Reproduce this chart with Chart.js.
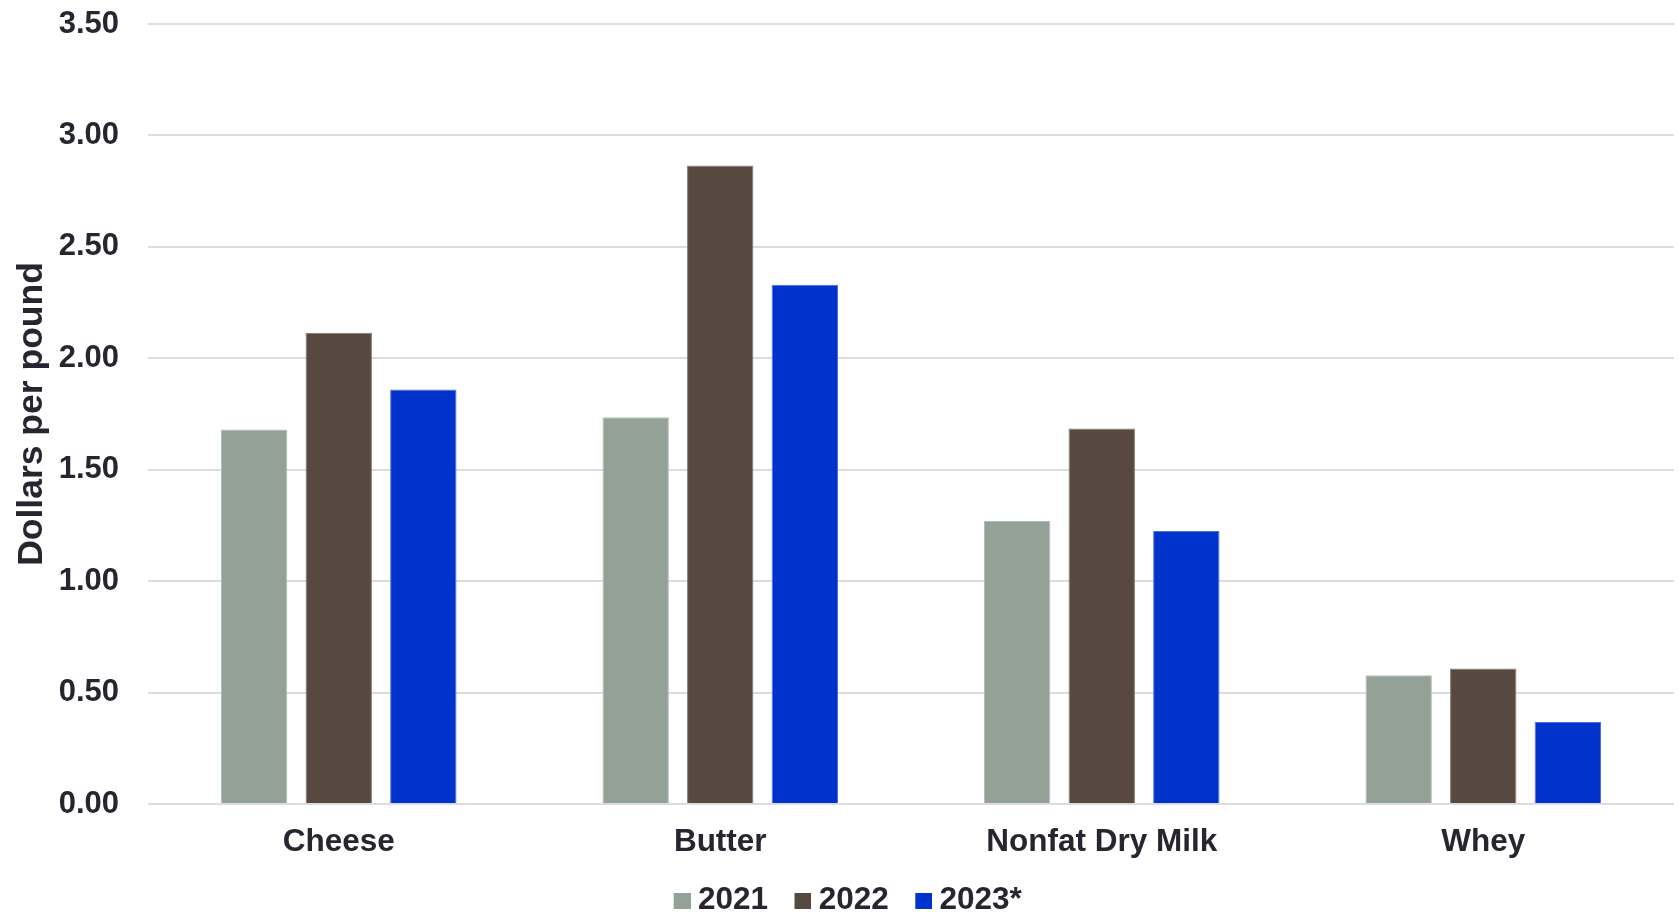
<!DOCTYPE html>
<html>
<head>
<meta charset="utf-8">
<title>Dairy product prices</title>
<script src="https://cdn.jsdelivr.net/npm/chart.js@4/dist/chart.umd.min.js"></script>
<style>
  html, body { margin: 0; padding: 0; background: #ffffff; }
  canvas { display: block; }
</style>
</head>
<body>
<canvas id="chart" width="1679" height="917"></canvas>
<script>
// Product categories along the x axis
const categories = ['Cheese', 'Butter', 'Nonfat Dry Milk', 'Whey'];

// Average prices, dollars per pound
const series2021 = [1.68, 1.735, 1.27, 0.578];
const series2022 = [2.115, 2.865, 1.685, 0.608];
const series2023 = [1.86, 2.33, 1.225, 0.368];

const seriesLabels = ['2021', '2022', '2023*'];
const seriesColors = ['#93a197', '#574840', '#0033cc'];
const seriesEdges = ['#b4beb7', '#85786f', '#4d6fe0'];

// Y axis tick range
const yMin = 0;
const yMax = 3.5;
const yStep = 0.5;

const FONT = '"Liberation Sans", Arial, Helvetica, sans-serif';
const TEXT = '#262631';

// Legend swatches: a square on the right side of a transparent strip,
// so the swatch sits close to its label.
function makeSwatch(color) {
  const c = document.createElement('canvas');
  c.width = 47;
  c.height = 16;
  const g = c.getContext('2d');
  g.fillStyle = color;
  g.fillRect(30, 0, 17, 16);
  return c;
}
const swatches = seriesColors.map(makeSwatch);

const values = [series2021, series2022, series2023];

new Chart(document.getElementById('chart'), {
  type: 'bar',
  data: {
    labels: categories,
    datasets: values.map((v, i) => ({
      label: seriesLabels[i],
      data: v,
      backgroundColor: seriesColors[i],
      borderColor: seriesEdges[i],
      borderWidth: 1,
      categoryPercentage: 0.665,
      barPercentage: 0.785
    }))
  },
  options: {
    responsive: false,
    animation: false,
    devicePixelRatio: 1,
    layout: { padding: { top: 24, right: 5, bottom: -9.5, left: 0 } },
    scales: {
      x: {
        grid: { display: false, drawTicks: false },
        border: { display: false },
        ticks: {
          color: TEXT,
          font: { family: FONT, size: 31.5, weight: 'bold' },
          padding: 19,
          maxRotation: 0,
          autoSkip: false
        },
        afterFit(scale) { scale.height = 76; }
      },
      y: {
        min: yMin,
        max: yMax,
        grid: {
          color: '#dcdce3',
          lineWidth: 2,
          drawTicks: true,
          tickLength: 24,
          tickColor: 'rgba(0,0,0,0)'
        },
        border: { display: false },
        ticks: {
          stepSize: yStep,
          color: TEXT,
          font: { family: FONT, size: 31, weight: 'bold' },
          padding: 5,
          callback: (v) => Number(v).toFixed(2)
        },
        title: {
          display: true,
          text: 'Dollars per pound',
          color: TEXT,
          font: { family: FONT, size: 35.5, weight: 'bold' },
          padding: { top: 11, bottom: 11 }
        },
        afterFit(scale) { scale.width = 148; }
      }
    },
    plugins: {
      tooltip: { enabled: false },
      legend: {
        position: 'bottom',
        labels: {
          color: TEXT,
          font: { family: FONT, size: 31.5, weight: 'bold' },
          usePointStyle: true,
          boxWidth: 30,
          padding: 5,
          generateLabels(chart) {
            const items = Chart.defaults.plugins.legend.labels.generateLabels(chart);
            items.forEach((it, i) => { it.pointStyle = swatches[i]; });
            return items;
          }
        }
      }
    }
  }
});
</script>
</body>
</html>
